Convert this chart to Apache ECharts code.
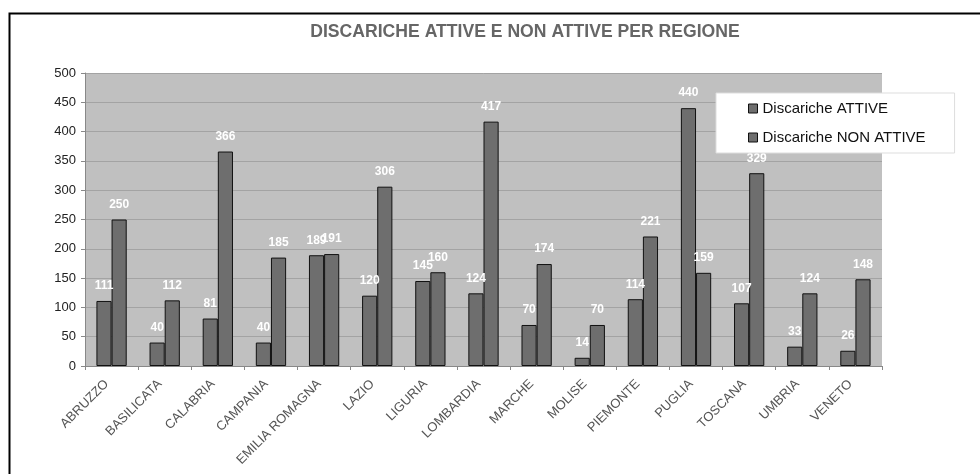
<!DOCTYPE html>
<html>
<head>
<meta charset="utf-8">
<script src="https://cdn.jsdelivr.net/npm/echarts@6/dist/echarts.min.js"></script>
<style>
html,body{margin:0;padding:0;background:#fff;}
#chart{width:980px;height:474px;}
</style>
</head>
<body>
<div id="chart"></div>
<script>
const categories = ['ABRUZZO','BASILICATA','CALABRIA','CAMPANIA','EMILIA ROMAGNA','LAZIO','LIGURIA','LOMBARDIA','MARCHE','MOLISE','PIEMONTE','PUGLIA','TOSCANA','UMBRIA','VENETO'];
const attive = [111,40,81,40,189,120,145,124,70,14,114,440,107,33,26];
const nonAttive = [250,112,366,185,191,306,160,417,174,70,221,159,329,124,148];
const yTicks = [0,50,100,150,200,250,300,350,400,450,500];

const chart = echarts.init(document.getElementById('chart'), null, {renderer:'canvas'});
const labelStyle = {
  show: true, position: 'top', distance: 9,
  color: '#ffffff', fontWeight: 'bold', fontSize: 12, fontFamily: 'Liberation Sans'
};
chart.setOption({
  animation: false,
  graphic: [{
    type: 'rect', left: 7, top: 11, shape: {x:0, y:0, width: 1000, height: 500},
    style: {fill: 'none', stroke: '#000', lineWidth: 2}, z: -10
  }],
  title: {
    text: 'DISCARICHE ATTIVE E NON ATTIVE PER REGIONE',
    left: 520, top: 18, textAlign: 'center',
    textStyle: {color: '#666', fontSize: 17.6, fontWeight: 'bold', fontFamily: 'Liberation Sans'}
  },
  legend: {
    orient: 'vertical', left: 716, top: 93,
    padding: [7, 29, 7, 32], itemGap: 12,
    backgroundColor: '#fff', borderColor: '#ddd', borderWidth: 1,
    itemWidth: 9, itemHeight: 9, icon: 'rect',
    itemStyle: {borderColor: '#111', borderWidth: 1},
    textStyle: {color: '#111', fontSize: 15, fontFamily: 'Liberation Sans', padding: [0,0,0,0], lineHeight: 17},
    data: ['Discariche ATTIVE', 'Discariche NON ATTIVE']
  },
  grid: {left: 85, right: 98, top: 73, bottom: 108, show: true, backgroundColor: '#c0c0c0', borderWidth: 0},
  xAxis: {
    type: 'category', data: categories,
    axisLine: {show: true, lineStyle: {color: '#888', width: 1}},
    axisTick: {show: true, alignWithLabel: false, length: 4, lineStyle: {color: '#888'}},
    axisLabel: {rotate: 45, interval: 0, margin: 11, padding: [0, 7, 0, 0], color: '#555', fontSize: 13, fontFamily: 'Liberation Sans'}
  },
  yAxis: {
    type: 'value', min: 0, max: 500, interval: 50,
    axisLine: {show: true, lineStyle: {color: '#888'}},
    axisTick: {show: true, length: 4, lineStyle: {color: '#888'}},
    splitLine: {show: true, lineStyle: {color: '#a3a3a3', width: 1}},
    axisLabel: {color: '#222', fontSize: 13, fontFamily: 'Liberation Sans', margin: 9,
      formatter: v => yTicks.includes(v) ? String(v) : ''}
  },
  series: [
    {
      name: 'Discariche ATTIVE', type: 'bar', data: attive,
      barGap: '0%', barCategoryGap: '43%',
      itemStyle: {color: '#6e6e6e', borderColor: '#111', borderWidth: 1},
      label: labelStyle,
      labelLayout: {moveOverlap: 'shiftX'}
    },
    {
      name: 'Discariche NON ATTIVE', type: 'bar', data: nonAttive,
      barGap: '0%', barCategoryGap: '43%',
      itemStyle: {color: '#6e6e6e', borderColor: '#111', borderWidth: 1},
      label: labelStyle,
      labelLayout: {moveOverlap: 'shiftX'}
    }
  ]
});
</script>
</body>
</html>
